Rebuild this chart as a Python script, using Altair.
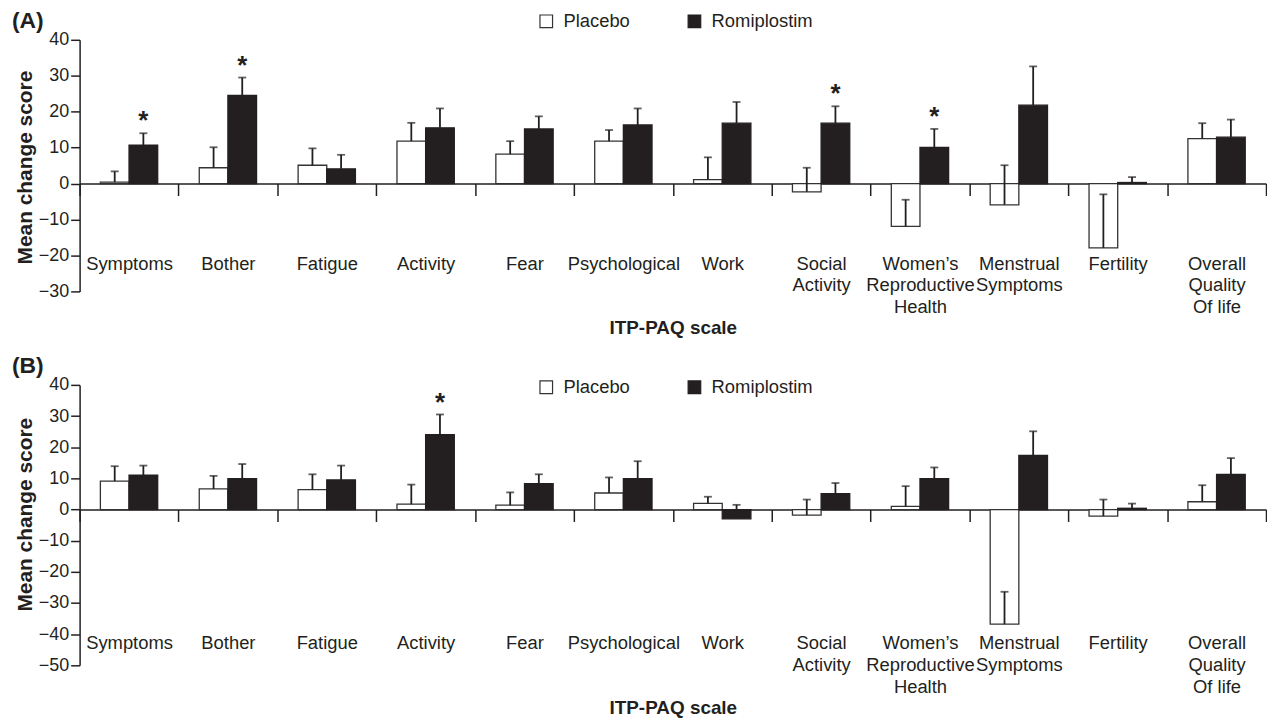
import altair as alt
import pandas as pd

categories = ["Symptoms", "Bother", "Fatigue", "Activity", "Fear", "Psychological",
              "Work", "Social Activity", "Women’s Reproductive Health",
              "Menstrual Symptoms", "Fertility", "Overall Quality Of life"]
groups = ["Placebo", "Romiplostim"]

# Panel A: mean change and mean + SE
a_placebo = [0.4, 4.4, 5.1, 11.8, 8.2, 11.8, 1.1, -2.3, -11.9, -5.9, -17.9, 12.5]
a_placebo_top = [3.4, 10.1, 9.8, 16.9, 11.8, 14.9, 7.3, 4.4, -4.5, 5.1, -3.0, 16.8]
a_romi = [10.7, 24.5, 4.1, 15.5, 15.2, 16.3, 16.8, 16.8, 10.1, 21.8, 0.3, 12.9]
a_romi_top = [14.0, 29.5, 8.0, 20.9, 18.7, 20.9, 22.7, 21.5, 15.2, 32.6, 1.8, 17.8]
a_star = [True, True, False, False, False, False, False, True, True, False, False, False]

# Panel B
b_placebo = [9.1, 6.6, 6.4, 1.7, 1.4, 5.3, 2.0, -1.8, 1.0, -36.8, -2.1, 2.5]
b_placebo_top = [13.9, 10.8, 11.3, 8.0, 5.5, 10.3, 4.1, 3.2, 7.5, -26.4, 3.2, 7.8]
b_romi = [11.0, 9.9, 9.5, 24.0, 8.3, 9.9, -3.0, 5.1, 9.9, 17.4, 0.4, 11.3]
b_romi_top = [14.1, 14.6, 14.1, 30.5, 11.3, 15.5, 1.5, 8.5, 13.5, 25.1, 1.9, 16.5]
b_star = [False, False, False, True, False, False, False, False, False, False, False, False]

FONT = "Liberation Sans, Arial, Helvetica, sans-serif"
INK = "#231f20"
W = 1193
FS = 18.5


def make_df(pl, pl_top, ro, ro_top, ro_star):
    rows = []
    for i, c in enumerate(categories):
        rows.append(dict(cat=c, grp="Placebo", val=pl[i], top=pl_top[i], star=False))
        rows.append(dict(cat=c, grp="Romiplostim", val=ro[i], top=ro_top[i], star=ro_star[i]))
    return pd.DataFrame(rows)


def panel(df, label, ymin, ymax, height, label_pad, title_y, legend_y, ytitle_y):
    x_off = -height * (-ymin) / (ymax - ymin)
    xscale = alt.Scale(paddingInner=0, paddingOuter=0)
    xaxis = alt.Axis(title="ITP-PAQ scale", offset=x_off, tickBand="extent",
                     tickSize=12, tickWidth=1.5, tickColor=INK,
                     domainColor=INK, domainWidth=1.5,
                     labelFontSize=FS, labelPadding=label_pad,
                     labelExpr="split(replace(datum.label, 'Of life', 'Of\u00a0life'), ' ')",
                     labelLineHeight=22,
                     labelAngle=0, labelOverlap=False, labelColor=INK,
                     titleFontSize=19, titleFontWeight="bold", titleColor=INK,
                     titleY=title_y, titleBaseline="middle")
    x = alt.X("cat:N", sort=categories, scale=xscale, axis=xaxis, title="ITP-PAQ scale")
    xo = alt.XOffset("grp:N", sort=groups, scale=alt.Scale(paddingInner=0, paddingOuter=0.725))
    yscale = alt.Scale(domain=[ymin, ymax], nice=False, zero=False)
    yaxis = alt.Axis(title="Mean change score", values=list(range(ymin, ymax + 1, 10)),
                     grid=False, tickSize=9, tickWidth=1.5, tickColor=INK,
                     domainColor=INK, domainWidth=1.5, labelFontSize=18,
                     labelPadding=2, labelColor=INK, titleFontSize=21,
                     titleFontWeight="bold", titleColor=INK, titlePadding=3,
                     titleY=ytitle_y)

    def Y(field):
        return alt.Y(field, scale=yscale, axis=yaxis, title="Mean change score")

    base = alt.Chart(df)
    bars = base.mark_bar(strokeWidth=1.3).encode(
        x=x, xOffset=xo, y=Y("val:Q"), y2=alt.datum(0),
        fill=alt.Fill("grp:N", scale=alt.Scale(domain=groups, range=["white", INK]),
                      legend=alt.Legend(orient="none", legendX=460, legendY=legend_y,
                                        direction="horizontal", title=None, labelFontSize=FS,
                                        labelColor=INK, symbolType="square", symbolSize=160,
                                        symbolStrokeColor="#333333", symbolStrokeWidth=1.2,
                                        columnPadding=55, labelOffset=8)),
        stroke=alt.Stroke("grp:N", scale=alt.Scale(domain=groups, range=["#333333", INK]),
                          legend=None),
    )
    rules = base.mark_rule(strokeWidth=1.8, color=INK).encode(
        x=x, xOffset=xo, y=Y("val:Q"), y2="top:Q")
    caps = base.mark_tick(orient="horizontal", size=8, thickness=1.8, color=INK).encode(
        x=x, xOffset=xo, y=Y("top:Q"))
    stars = base.transform_filter("datum.star").mark_text(
        text="*", fontSize=26, fontWeight="bold", dy=-12, baseline="middle", color=INK,
        font=FONT).encode(x=x, xOffset=xo, y=Y("top:Q"))
    tag = alt.Chart(pd.DataFrame({"t": [label]})).mark_text(
        align="left", baseline="middle", fontSize=23, fontWeight="bold", color=INK,
        font=FONT).encode(x=alt.value(-68), y=alt.value(-19), text="t:N")
    return alt.layer(bars, rules, caps, stars, tag).properties(width=W, height=height)


pa = panel(make_df(a_placebo, a_placebo_top, a_romi, a_romi_top, a_star), "(A)",
           -30, 40, 253, 59, 145, -28, 128)
pb = panel(make_df(b_placebo, b_placebo_top, b_romi, b_romi_top, b_star), "(B)",
           -50, 40, 282, 113, 199, -7, 130)

chart = alt.vconcat(pa, pb, spacing=17).resolve_scale(
    x="independent", y="independent", fill="independent", stroke="independent",
    xOffset="independent").resolve_legend(fill="independent").properties(
    padding={"left": 4, "top": 0, "right": 0, "bottom": 0}
).configure(font=FONT).configure_view(stroke=None)

chart.save("out.html", embed_options={"renderer": "svg", "actions": False})
